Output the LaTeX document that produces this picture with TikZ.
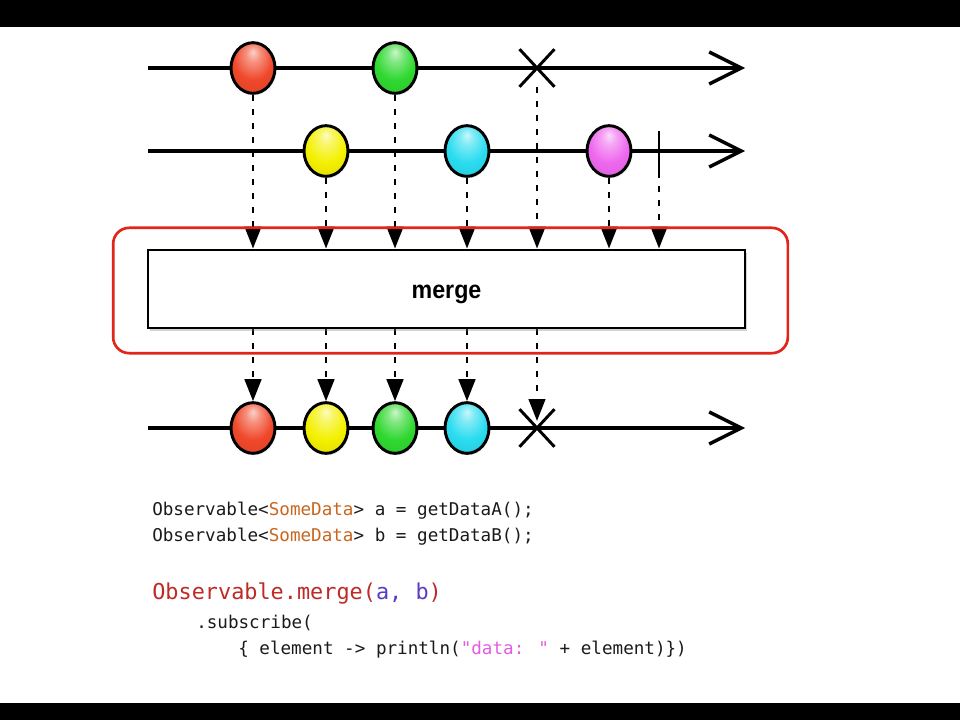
\documentclass[tikz,border=0pt]{standalone}
\usepackage{fontspec}
\usetikzlibrary{arrows.meta,shapes.geometric,shapes.misc,shadows,backgrounds}
\newfontfamily\codefont{DejaVu Sans Mono}
\newfontfamily\labelfont{Liberation Sans}
\definecolor{mred}{HTML}{F0482A}
\definecolor{mgreen}{HTML}{30D830}
\definecolor{myellow}{HTML}{F4F000}
\definecolor{mcyan}{HTML}{2ADCF0}
\definecolor{mmagenta}{HTML}{EE68EE}
\definecolor{codetext}{HTML}{1A1A1A}
\definecolor{codeorange}{HTML}{C8661E}
\definecolor{codered}{HTML}{BE2A26}
\definecolor{codepurple}{HTML}{5A3CC0}
\definecolor{codepink}{HTML}{E45CE0}
\definecolor{hlred}{HTML}{E0261A}
\colorlet{mcol}{red}
\pgfdeclareradialshading[mcol]{marbleshade}{\pgfpoint{0bp}{16bp}}{%
  color(0bp)=(mcol!25!white); color(8bp)=(mcol!60!white); color(22bp)=(mcol); color(42bp)=(mcol!88!black); color(60bp)=(mcol!80!black)}
\begin{document}
\begin{tikzpicture}[x=0.75pt,y=-0.75pt,
  marble/.style={ellipse, draw=black, line width=2.2pt, minimum width=33pt, minimum height=38pt, inner sep=0pt,
    /utils/exec={\colorlet{mcol}{#1}}, shading=marbleshade,
    drop shadow={opacity=0.18, shadow xshift=1pt, shadow yshift=-1.5pt}},
  timeline/.style={line width=2.6pt, -{Straight Barb[length=24pt,width=24pt,line width=2.6pt]}},
  dotarrow/.style={line width=1.8pt, dash pattern=on 4.5pt off 6pt, -{Triangle[length=16.5pt,width=12.5pt]}},
  endx/.style={cross out, draw=black, line width=2.2pt, minimum width=24pt, minimum height=26pt, inner sep=0pt},
  code/.style={anchor=base west, inner sep=0pt, text=codetext, font=\codefont\fontsize{13.2}{16}\selectfont}
]
\useasboundingbox (0,0) rectangle (960,720);
\fill[black] (0,0) rectangle (960,27);
\fill[black] (0,703) rectangle (960,720);

% first stream
\coordinate (t1s) at (148,68); \coordinate (t1e) at (745,68);
\node[marble=mred] (a1) at (253,68) {};
\node[marble=mgreen] (a2) at (395,68) {};
\node[endx] (ax) at (537,68) {};
% second stream
\coordinate (t2s) at (148,151); \coordinate (t2e) at (745,151);
\node[marble=myellow] (b1) at (326,151) {};
\node[marble=mcyan] (b2) at (467,151) {};
\node[marble=mmagenta] (b3) at (609,151) {};
\coordinate (btt) at (659,131); \coordinate (btb) at (659,172);
% merge box
\node[draw=black, fill=white, line width=2.2pt, minimum width=447.75pt, minimum height=58.5pt, inner sep=0pt,
  drop shadow={opacity=0.35, shadow xshift=1.5pt, shadow yshift=-2pt}] (box) at (446.5,289) {};
\node[anchor=base, inner sep=0pt, font=\labelfont\bfseries\fontsize{18.75}{20}\selectfont] (mlabel) at (446.5,298) {\scalebox{0.93}[1]{merge}};
\node[draw=hlred, line width=2pt, rounded corners=12pt, minimum width=506pt, minimum height=94pt, inner sep=0pt] (hl) at (450.5,290.5) {};
% output stream
\coordinate (t3s) at (148,428); \coordinate (t3e) at (745,428);
\node[marble=mred] (c1) at (253,428) {};
\node[marble=myellow] (c2) at (326,428) {};
\node[marble=mgreen] (c3) at (395,428) {};
\node[marble=mcyan] (c4) at (467,428) {};
\node[endx] (cx) at (537,428) {};
\coordinate (cxt) at (537,421);

\begin{pgfonlayer}{background}
\draw[timeline] (t1s) -- (t1e);
\draw[timeline] (t2s) -- (t2e);
\draw[timeline] (t3s) -- (t3e);
\draw[line width=2.2pt] (btt) -- (btb);
\draw[dotarrow] (a1.south) -- (a1.south |- box.north);
\draw[dotarrow] (a2.south) -- (a2.south |- box.north);
\draw[dotarrow] (ax.south) -- (ax.south |- box.north);
\draw[dotarrow] (b1.south) -- (b1.south |- box.north);
\draw[dotarrow] (b2.south) -- (b2.south |- box.north);
\draw[dotarrow] (b3.south) -- (b3.south |- box.north);
\draw[dotarrow] (btb) -- (btb |- box.north);
\draw[dotarrow] (box.south -| c1) -- (c1.north);
\draw[dotarrow] (box.south -| c2) -- (c2.north);
\draw[dotarrow] (box.south -| c3) -- (c3.north);
\draw[dotarrow] (box.south -| c4) -- (c4.north);
\draw[dotarrow] (box.south -| cx) -- (cxt);
\end{pgfonlayer}

% code
\node[code] (l1) at (152,515) {Observable<\textcolor{codeorange}{SomeData}> a = getDataA();};
\node[code] (l2) at (152,541) {Observable<\textcolor{codeorange}{SomeData}> b = getDataB();};
\node[code, font=\codefont\fontsize{16.4}{20}\selectfont, text=codered] (l3) at (152,599) {Observable.merge(\textcolor{codepurple}{a, b})};
\node[code] (l4) at (196,628) {.subscribe(};
\node[code] (l5) at (238,654) {\{ element -> println(\textcolor{codepink}{"data: "} + element)\})};
\end{tikzpicture}
\end{document}
